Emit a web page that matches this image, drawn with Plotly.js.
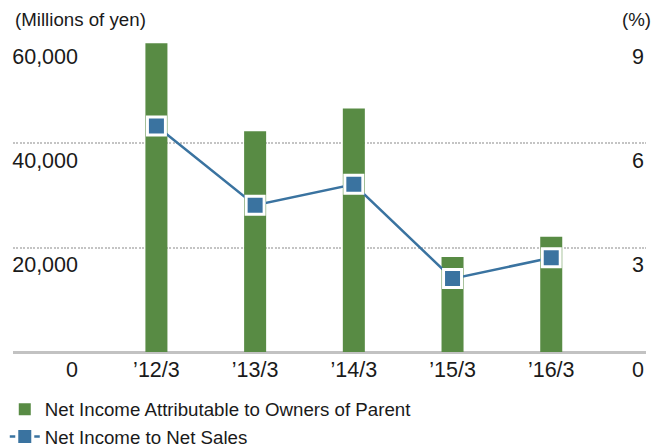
<!DOCTYPE html>
<html>
<head>
<meta charset="utf-8">
<script src="https://cdn.plot.ly/plotly-3.0.1.min.js"></script>
<style>html,body{margin:0;padding:0;background:#fff;}#chart{width:662px;height:445px;}</style>
</head>
<body>
<div id="chart"></div>
<script>
const categories = ["\u201912/3", "\u201913/3", "\u201914/3", "\u201915/3", "\u201916/3"];
const netIncome = [59200, 42300, 46700, 18200, 22100];
const netIncomeRatio = [6.50, 4.22, 4.82, 2.11, 2.71];
const leftTickVals = [0, 20000, 40000, 60000];
const leftTickText = ["0", "20,000", "40,000", "60,000"];
const rightTickVals = [0, 3, 6, 9];
const rightTickText = ["0", "3", "6", "9"];

const FONT = "Liberation Sans, Arial, Helvetica, sans-serif";
const GREEN = "#588b44";
const BLUE = "#3a73a0";

const traces = [
  {
    type: "bar",
    name: "Net Income Attributable to Owners of Parent",
    x: categories,
    y: netIncome,
    width: 0.223,
    marker: { color: GREEN, line: { width: 0 } },
    hoverinfo: "skip"
  },
  {
    type: "scatter",
    mode: "lines+markers",
    name: "Net Income to Net Sales",
    x: categories,
    y: netIncomeRatio,
    yaxis: "y2",
    line: { color: BLUE, width: 2.5 },
    marker: { symbol: "square", size: 18, color: BLUE, line: { color: "#ffffff", width: 3 } },
    hoverinfo: "skip"
  }
];

const layout = {
  width: 662,
  height: 445,
  margin: { l: 13, r: 16, t: 39, b: 93, pad: 0, autoexpand: false },
  paper_bgcolor: "#ffffff",
  plot_bgcolor: "#ffffff",
  font: { family: FONT, size: 19, color: "#1a1a1a" },
  showlegend: true,
  legend: {
    x: -0.013, xanchor: "left",
    y: -0.123, yanchor: "top",
    font: { family: FONT, size: 18.7, color: "#1a1a1a" },
    bgcolor: "rgba(0,0,0,0)",
    tracegroupgap: 0,
    itemwidth: 30
  },
  xaxis: {
    type: "category",
    range: [-1.453, 4.96],
    showgrid: false,
    zeroline: false,
    showline: false,
    ticks: "",
    tickfont: { family: FONT, size: 21.5, color: "#1a1a1a" },
    ticklabelstandoff: 2,
    automargin: false,
    fixedrange: true
  },
  yaxis: {
    range: [0, 60000],
    tickvals: leftTickVals,
    ticktext: leftTickText,
    tickfont: { family: FONT, size: 21.5, color: "#1a1a1a" },
    ticks: "",
    ticklabelposition: "outside",
    ticklabelstandoff: -66,
    ticklabelshift: 17,
    showgrid: true,
    gridcolor: "#c4c4c4",
    gridwidth: 2,
    griddash: "2px,1.4px",
    zeroline: true,
    zerolinecolor: "#c2c2c2",
    zerolinewidth: 3,
    showline: false,
    automargin: false,
    fixedrange: true
  },
  yaxis2: {
    overlaying: "y",
    side: "right",
    range: [0, 9],
    tickvals: rightTickVals,
    ticktext: rightTickText,
    tickfont: { family: FONT, size: 21.5, color: "#1a1a1a" },
    ticks: "",
    ticklabelposition: "outside",
    ticklabelstandoff: -15,
    ticklabelshift: 17,
    showgrid: false,
    zeroline: false,
    showline: false,
    automargin: false,
    fixedrange: true
  },
  annotations: [
    {
      text: "(Millions of yen)",
      xref: "paper", yref: "paper",
      x: 0, y: 1, xanchor: "left", yanchor: "middle",
      yshift: 20, showarrow: false,
      font: { family: FONT, size: 18.7, color: "#1a1a1a" }
    },
    {
      text: "(%)",
      xref: "paper", yref: "paper",
      x: 1, y: 1, xanchor: "right", yanchor: "middle",
      yshift: 20, xshift: 7, showarrow: false,
      font: { family: FONT, size: 18.7, color: "#1a1a1a" }
    }
  ]
};

Plotly.newPlot("chart", traces, layout, { displayModeBar: false, staticPlot: true });
</script>
</body>
</html>
